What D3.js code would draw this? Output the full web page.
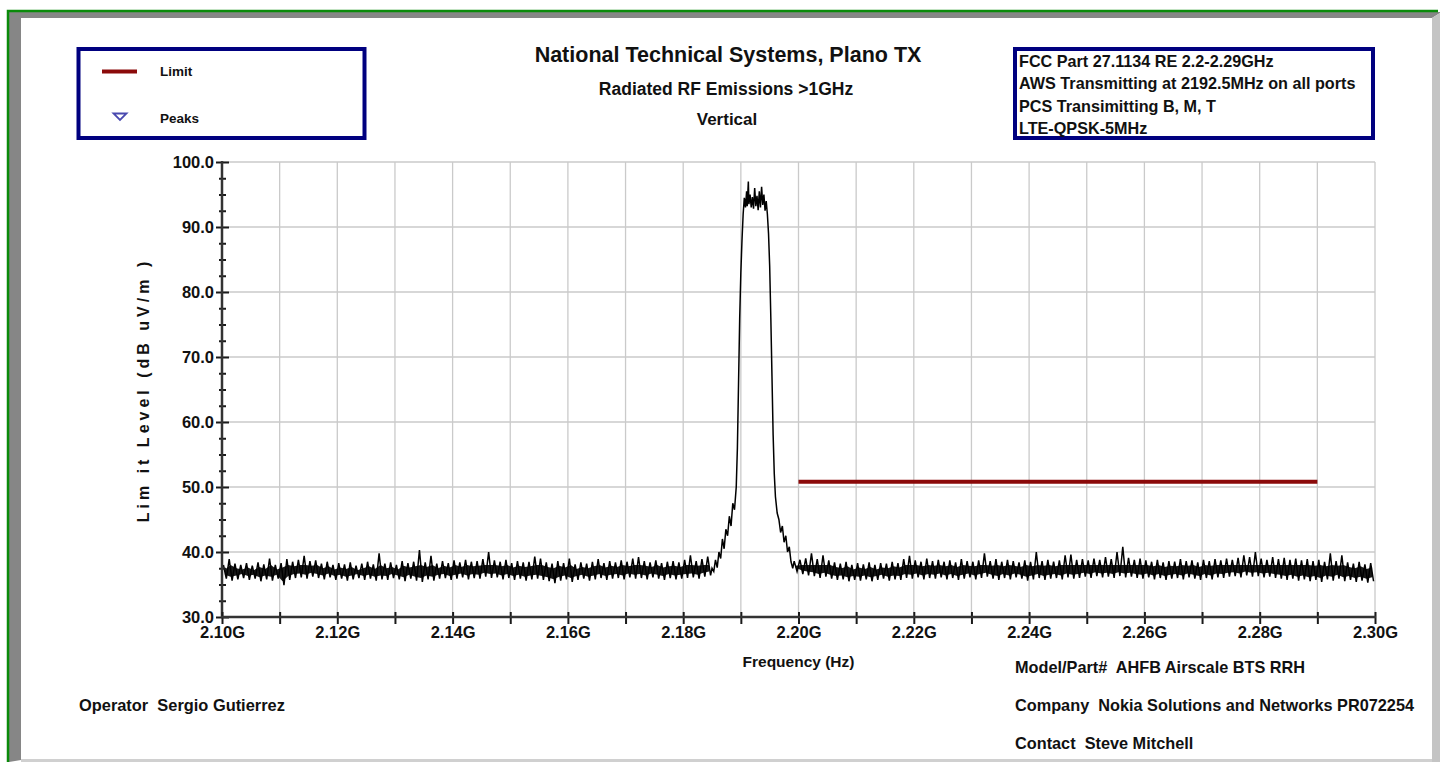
<!DOCTYPE html>
<html>
<head>
<meta charset="utf-8">
<script src="https://cdn.jsdelivr.net/npm/d3@7"></script>
<style>
  body { margin: 0; background: #fff; }
  svg text { font-family: Arial, "Liberation Sans", sans-serif; font-weight: bold; fill: #111; }
</style>
</head>
<body>
<svg width="1440" height="762"></svg>
<script>
var leftStart = 2100;
var leftHi = [38.0, 38.9, 38.2, 38.0, 38.3, 37.9, 38.4, 38.1, 39.0, 38.0,
  38.3, 38.9, 38.5, 38.8, 39.4, 38.6, 38.7, 38.2, 38.5, 38.0,
  38.3, 38.1, 38.4, 37.9, 38.2, 38.5, 38.1, 39.8, 38.2, 38.4,
  38.0, 38.6, 38.3, 38.5, 40.3, 38.4, 39.4, 38.2, 38.6, 38.3,
  38.7, 38.4, 38.8, 38.5, 38.6, 38.9, 40.0, 38.7, 38.5, 38.8,
  38.3, 38.6, 38.4, 38.5, 39.3, 39.0, 38.4, 38.2, 38.6, 38.3,
  39.0, 38.1, 38.4, 38.2, 38.5, 38.9, 38.3, 38.6, 38.4, 38.7,
  38.5, 39.0, 39.2, 38.6, 38.4, 38.7, 38.3, 38.5, 38.6, 38.4,
  38.8, 39.5, 38.6, 38.9, 39.3];
var leftLo = [35.9, 35.6, 35.8, 36.0, 35.7, 35.9, 35.5, 35.8, 35.6, 35.9,
  34.9, 35.7, 36.0, 36.1, 35.9, 36.2, 36.0, 35.8, 36.1, 35.7,
  35.9, 35.6, 35.8, 36.0, 35.7, 35.9, 35.6, 35.8, 35.7, 36.0,
  35.8, 35.5, 35.9, 35.6, 35.4, 35.8, 35.6, 35.9, 36.0, 35.7,
  35.9, 36.1, 35.8, 36.0, 35.9, 36.2, 36.0, 36.1, 35.8, 36.0,
  35.7, 35.9, 35.6, 35.8, 35.9, 35.7, 35.5, 35.2, 35.6, 35.8,
  35.4, 35.7, 35.9, 35.6, 35.8, 36.0, 35.7, 35.9, 36.0, 35.8,
  36.1, 35.9, 36.0, 35.8, 36.1, 35.9, 35.7, 36.0, 35.8, 35.9,
  36.0, 36.1, 35.9, 36.2, 36.4];

var rightStart = 2199;
var rightHi = [38.6, 38.8, 39.0, 39.8, 38.9, 39.5, 38.7, 38.4, 38.2, 38.5,
  38.0, 38.3, 38.1, 38.4, 38.0, 38.3, 38.2, 38.5, 38.3, 38.9,
  39.4, 38.7, 38.5, 39.0, 38.6, 38.8, 38.5, 38.7, 38.4, 38.9,
  38.6, 38.5, 38.7, 39.8, 38.6, 38.9, 38.5, 38.8, 38.6, 38.4,
  38.7, 38.5, 40.0, 38.6, 38.8, 38.5, 38.7, 39.5, 39.6, 38.8,
  38.9, 38.7, 39.0, 38.8, 39.2, 38.9, 40.0, 40.8, 39.1, 38.8,
  39.0, 38.7, 38.5, 38.8, 38.4, 38.6, 38.5, 38.9, 38.6, 38.7,
  38.4, 38.8, 38.6, 38.9, 38.7, 39.0, 38.8, 39.1, 39.5, 39.2,
  40.0, 39.0, 38.8, 39.2, 38.9, 39.1, 38.8, 39.0, 38.7, 38.9,
  38.6, 38.8, 38.5, 39.8, 38.6, 39.5, 38.4, 38.2, 38.5, 38.1,
  38.3];
var rightLo = [37.0, 36.6, 36.4, 36.3, 36.0, 36.2, 35.9, 35.7, 35.8, 35.5,
  35.7, 35.6, 35.8, 35.5, 35.7, 35.9, 35.6, 35.8, 35.7, 36.0,
  35.9, 36.1, 35.8, 36.0, 35.9, 36.1, 35.8, 36.0, 35.7, 35.9,
  36.1, 35.8, 36.0, 36.2, 35.9, 35.7, 36.0, 35.8, 36.1, 35.9,
  35.6, 35.8, 36.0, 35.7, 35.9, 36.0, 35.8, 36.1, 35.9, 36.0,
  36.2, 36.0, 36.3, 36.1, 36.2, 36.0, 36.3, 36.1, 36.2, 36.0,
  35.9, 36.1, 35.8, 36.0, 35.7, 35.9, 36.0, 35.8, 36.1, 35.9,
  35.7, 36.0, 35.8, 36.1, 36.0, 36.2, 36.3, 36.1, 36.4, 36.2,
  36.3, 36.1, 36.2, 36.0, 35.9, 35.7, 35.9, 35.6, 35.8, 35.5,
  35.7, 35.4, 35.8, 35.6, 35.9, 35.5, 35.7, 35.4, 35.6, 35.3,
  35.5];

// the carrier itself (MHz, dBuV/m)
var sigFreq = [2185.0, 2185.3, 2185.6, 2185.9, 2186.2, 2186.5, 2186.8, 2187.1, 2187.4, 2187.7,
  2188.0, 2188.3, 2188.6, 2188.9, 2189.2, 2189.4, 2189.6, 2189.8, 2190.0, 2190.2,
  2190.4, 2190.6, 2190.8, 2191.0, 2191.1, 2191.3, 2191.4, 2191.6, 2191.8, 2192.0,
  2192.2, 2192.4, 2192.6, 2192.8, 2193.0, 2193.2, 2193.4, 2193.6, 2193.8, 2194.0,
  2194.2, 2194.4, 2194.6, 2194.8, 2195.0, 2195.2, 2195.4, 2195.6, 2195.8, 2196.0,
  2196.3, 2196.6, 2196.9, 2197.2, 2197.5, 2197.8, 2198.1, 2198.4, 2198.7, 2199.0];
var sigLevel = [37.5, 37.0, 38.8, 37.6, 40.0, 39.0, 42.0, 40.5, 43.5, 42.5,
  45.5, 44.0, 47.5, 46.5, 50.0, 56.0, 66.0, 76.0, 83.0, 88.0,
  92.0, 94.5, 93.0, 95.5, 93.2, 97.0, 93.5, 95.0, 93.0, 94.6,
  92.8, 96.0, 93.2, 94.8, 92.6, 95.5, 93.0, 96.2, 93.4, 95.0,
  92.5, 94.0, 92.0, 89.0, 84.0, 76.0, 67.0, 58.0, 52.0, 48.5,
  46.0, 45.0, 43.0, 44.0, 41.5, 42.5, 40.0, 40.8, 38.5, 37.5];

var limitFreq = [2200, 2290];
var limitLevel = [50.8, 50.8];

var yMajor = [30, 40, 50, 60, 70, 80, 90, 100];
var xMajor = [2100, 2120, 2140, 2160, 2180, 2200, 2220, 2240, 2260, 2280, 2300];

var infoLines = ["FCC Part 27.1134 RE 2.2-2.29GHz",
  "AWS Transmitting at 2192.5MHz on all ports",
  "PCS Transimitting B, M, T",
  "LTE-QPSK-5MHz"];

var svg = d3.select("svg");

// frame
svg.append("rect").attr("x", 0).attr("y", 0).attr("width", 1440).attr("height", 762).attr("fill", "#fff");
svg.append("polygon").attr("points", "9,12 1440,12 1440,13 1432,18 21,18 21,760 9,762").attr("fill", "#868686");
svg.append("polygon").attr("points", "1432,18 1440,13 1440,762 1432,762").attr("fill", "#c4c4c4");
svg.append("rect").attr("x", 21).attr("y", 759).attr("width", 1411).attr("height", 3).attr("fill", "#d0d0d0");
svg.append("path").attr("d", "M8,762 V11 H1438").attr("fill", "none").attr("stroke", "#0a8a0a").attr("stroke-width", 2.5);

var x = d3.scaleLinear().domain([2100, 2300]).range([222, 1375]);
var y = d3.scaleLinear().domain([30, 100]).range([617, 162]);

// grid
svg.append("g").selectAll("line").data(d3.range(2100, 2300.1, 10)).enter().append("line")
  .attr("x1", function(d) { return x(d); }).attr("x2", function(d) { return x(d); })
  .attr("y1", y(100)).attr("y2", y(30))
  .attr("stroke", "#cacaca").attr("stroke-width", 1.3);
svg.append("g").selectAll("line").data(yMajor).enter().append("line")
  .attr("x1", x(2100)).attr("x2", x(2300))
  .attr("y1", function(d) { return y(d); }).attr("y2", function(d) { return y(d); })
  .attr("stroke", "#cacaca").attr("stroke-width", 1.3);

// limit
svg.append("line")
  .attr("x1", x(limitFreq[0])).attr("x2", x(limitFreq[1]))
  .attr("y1", y(limitLevel[0])).attr("y2", y(limitLevel[1]))
  .attr("stroke", "#8b0a0a").attr("stroke-width", 4);

// trace
function binPoints(start, hi, lo) {
  var pts = [];
  for (var i = 0; i < hi.length; i++) {
    pts.push([start + i + 0.25, hi[i]]);
    pts.push([start + i + 0.75, lo[i]]);
  }
  return pts;
}
var trace = binPoints(leftStart, leftHi, leftLo)
  .concat(sigFreq.map(function(f, i) { return [f, sigLevel[i]]; }))
  .concat(binPoints(rightStart, rightHi, rightLo));

// dense core of the noise band
var band = d3.area()
  .x(function(d) { return x(d.f); })
  .y0(function(d) { return y(d.lo); })
  .y1(function(d) { return y(d.hi); });
function bandData(start, hi, lo) {
  return hi.map(function(h, i) { return { f: start + i + 0.5, hi: Math.min(h - 0.7, 38.0), lo: lo[i] + 0.6 }; });
}
svg.append("path").datum(bandData(leftStart, leftHi, leftLo)).attr("d", band).attr("fill", "#000").attr("opacity", 0.9);
svg.append("path").datum(bandData(rightStart, rightHi, rightLo)).attr("d", band).attr("fill", "#000").attr("opacity", 0.9);

svg.append("path").datum(trace)
  .attr("d", d3.line().x(function(d) { return x(d[0]); }).y(function(d) { return y(d[1]); }))
  .attr("fill", "none").attr("stroke", "#000").attr("stroke-width", 1.5);

// y axis
var yAxis = svg.append("g").attr("transform", "translate(222,0)")
  .call(d3.axisLeft(y).tickValues(d3.range(30, 100.01, 2.5))
    .tickFormat(function(d) { return d % 10 === 0 ? d.toFixed(1) : ""; }));
yAxis.select(".domain").remove();
yAxis.selectAll(".tick line")
  .attr("x1", function(d) { return d % 10 === 0 ? -6 : -3; })
  .attr("x2", function(d) { return d % 10 === 0 ? 7 : 4; })
  .attr("stroke", "#1a1a1a").attr("stroke-width", 2);
yAxis.selectAll(".tick text").attr("x", -8).attr("dy", "0.35em")
  .style("font-size", "16.5px").attr("fill", "#111");
yAxis.append("line").attr("x1", 0).attr("x2", 0).attr("y1", y(30) + 1).attr("y2", y(100) - 1)
  .attr("stroke", "#333").attr("stroke-width", 2.5);

// x axis
var xAxis = svg.append("g").attr("transform", "translate(0,617)")
  .call(d3.axisBottom(x).tickValues(d3.range(2100, 2300.1, 10))
    .tickFormat(function(d) { return xMajor.indexOf(Math.round(d)) >= 0 ? (d / 1000).toFixed(2) + "G" : ""; }));
xAxis.select(".domain").remove();
xAxis.selectAll(".tick line").attr("y1", -5).attr("y2", 7).attr("stroke", "#1a1a1a").attr("stroke-width", 2);
xAxis.selectAll(".tick text").attr("y", 9.5).attr("dy", "0.71em")
  .style("font-size", "16.5px").attr("fill", "#111");
xAxis.append("line").attr("x1", x(2100) - 1).attr("x2", x(2300) + 1).attr("y1", 0).attr("y2", 0)
  .attr("stroke", "#333").attr("stroke-width", 2.5);

// axis titles
svg.append("text").attr("x", 798.5).attr("y", 667).attr("text-anchor", "middle")
  .style("font-size", "15.5px").text("Frequency (Hz)");
svg.append("text").attr("transform", "translate(149,390) rotate(-90)").attr("text-anchor", "middle")
  .style("font-size", "16px").style("letter-spacing", "4px").text("Lim it Level (dB uV/m )");

// titles
svg.append("text").attr("x", 728).attr("y", 62).attr("text-anchor", "middle")
  .style("font-size", "21.5px").text("National Technical Systems, Plano TX");
svg.append("text").attr("x", 726).attr("y", 95).attr("text-anchor", "middle")
  .style("font-size", "17.5px").text("Radiated RF Emissions >1GHz");
svg.append("text").attr("x", 727).attr("y", 124.5).attr("text-anchor", "middle")
  .style("font-size", "17px").text("Vertical");

// legend
svg.append("rect").attr("x", 78.5).attr("y", 49).attr("width", 286).attr("height", 89)
  .attr("fill", "#fff").attr("stroke", "#00007f").attr("stroke-width", 4);
svg.append("line").attr("x1", 102).attr("x2", 137).attr("y1", 71.5).attr("y2", 71.5)
  .attr("stroke", "#8b0a0a").attr("stroke-width", 4);
svg.append("text").attr("x", 160).attr("y", 76).style("font-size", "13.5px").text("Limit");
svg.append("path").attr("d", "M113.5,113.5 L126.5,113.5 L120,120 Z")
  .attr("fill", "none").attr("stroke", "#4a4ab0").attr("stroke-width", 1.8);
svg.append("text").attr("x", 160).attr("y", 122.5).style("font-size", "13.5px").text("Peaks");

// info box
svg.append("rect").attr("x", 1015).attr("y", 49).attr("width", 358).attr("height", 89)
  .attr("fill", "#fff").attr("stroke", "#00007f").attr("stroke-width", 4);
svg.append("g").selectAll("text").data(infoLines).enter().append("text")
  .attr("x", 1019).attr("y", function(d, i) { return 66.5 + i * 22.5; })
  .style("font-size", "16.2px").text(function(d) { return d; });

// footer
svg.append("text").attr("x", 79).attr("y", 711).style("font-size", "16.4px").text("Operator\u00a0 Sergio Gutierrez");
svg.append("text").attr("x", 1015).attr("y", 673).style("font-size", "16.3px").text("Model/Part#\u00a0 AHFB Airscale BTS RRH");
svg.append("text").attr("x", 1015).attr("y", 711).style("font-size", "16.3px").text("Company\u00a0 Nokia Solutions and Networks PR072254");
svg.append("text").attr("x", 1015).attr("y", 749).style("font-size", "16.3px").text("Contact\u00a0 Steve Mitchell");
</script>
</body>
</html>
